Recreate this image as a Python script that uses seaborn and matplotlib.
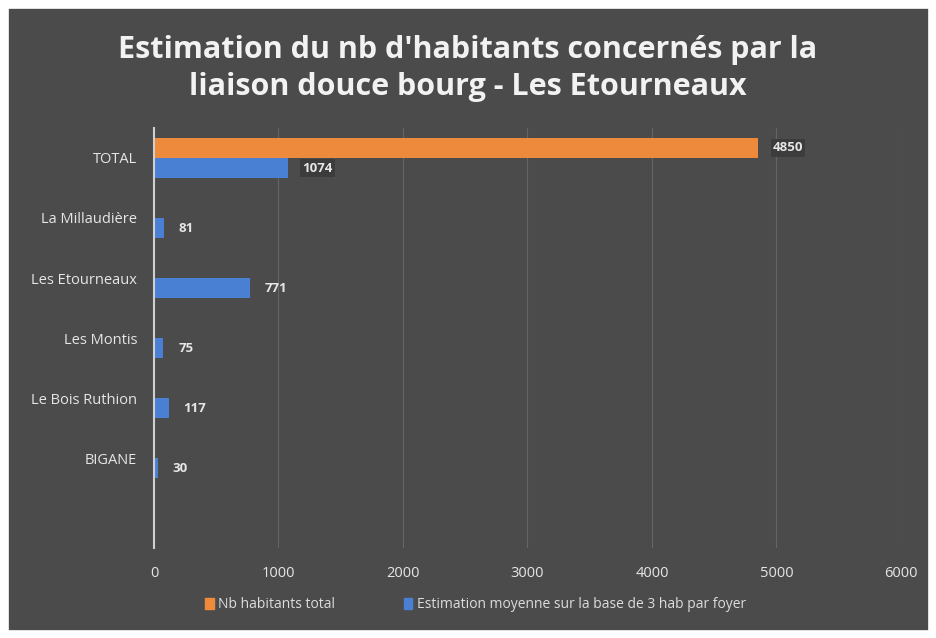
import pandas as pd
import numpy as np
import matplotlib.pyplot as plt
import matplotlib.patches as mpatches
import seaborn as sns

# data
categories = ['TOTAL', 'La Millaudière', 'Les Etourneaux', 'Les Montis', 'Le Bois Ruthion', 'BIGANE']
estimation = [1074, 81, 771, 75, 117, 30]
total_hab = [4850]          # only the TOTAL row has the orange series
series = ['Nb habitants total', 'Estimation moyenne sur la base de 3 hab par foyer']
xticks = [0, 1000, 2000, 3000, 4000, 5000, 6000]

df = pd.concat([
    pd.DataFrame({'Lieu': categories[:1], 'Serie': series[0], 'Valeur': total_hab}),
    pd.DataFrame({'Lieu': categories, 'Serie': series[1], 'Valeur': estimation}),
])

bg = '#4b4b4b'
txt = '#e6e6e6'
colors = {series[0]: '#ee8a3c', series[1]: '#4a80d4'}

sns.set_style('dark')
plt.rcParams['font.family'] = ['Open Sans', 'DejaVu Sans']

fig = plt.figure(figsize=(9.36, 6.38), dpi=100)
fig.patch.set_facecolor(bg)
# white paper edge around the chart
fig.patches.append(mpatches.Rectangle((0, 0), 1, 1, transform=fig.transFigure, fill=False,
                                      edgecolor='white', linewidth=12, zorder=10))
ax = fig.add_axes([0.1645, 0.141, 0.798, 0.6584])
ax.set_facecolor(bg)

sns.barplot(data=df, y='Lieu', x='Valeur', hue='Serie', order=categories, hue_order=series,
            palette=colors, orient='h', width=0.67, ax=ax, legend=False,
            edgecolor='none', saturation=1)

ax.set_xlim(0, 6000)
ax.set_ylim(6.5, -0.5)   # empty slot below the last row, as in the original
ax.set_xticks(xticks)
ax.set_xticklabels([str(t) for t in xticks])
ax.grid(axis='x', color='#858585', linewidth=0.8, alpha=0.45)
ax.grid(axis='y', visible=False)
ax.set_axisbelow(True)
for s in ['top', 'right', 'bottom']:
    ax.spines[s].set_visible(False)
ax.spines['left'].set_color('#cfcfcf')
ax.spines['left'].set_linewidth(1.5)
ax.tick_params(axis='both', length=0, colors=txt, labelsize=10.5)
ax.tick_params(axis='x', pad=13)
ax.tick_params(axis='y', pad=12)
ax.set_xlabel('')
ax.set_ylabel('')

# value labels
for p in ax.patches:
    w = p.get_width()
    if np.isnan(w) or p.get_height() == 0:
        continue
    ax.text(w + 120, p.get_y() + p.get_height() / 2, f'{int(round(w))}', va='center', ha='left',
            fontsize=9.5, color=txt, fontweight='bold',
            bbox=dict(facecolor='#3c3c3c', edgecolor='none', pad=1.5) if w > 1000 else None)

fig.text(0.5, 0.893, "Estimation du nb d'habitants concernés par la\nliaison douce bourg - Les Etourneaux",
         ha='center', va='center', fontsize=22, fontweight='bold', color='#f2f2f2', linespacing=1.3)

handles = [mpatches.Patch(color=colors[s], label=s) for s in series]
fig.legend(handles=handles, loc='center', bbox_to_anchor=(0.508, 0.052), ncol=2, frameon=False,
           fontsize=10, labelcolor='#dcdcdc', handlelength=0.6, handleheight=0.9,
           handletextpad=0.3, columnspacing=5)

plt.savefig('out.png', dpi=100, facecolor=fig.get_facecolor())
plt.close()
